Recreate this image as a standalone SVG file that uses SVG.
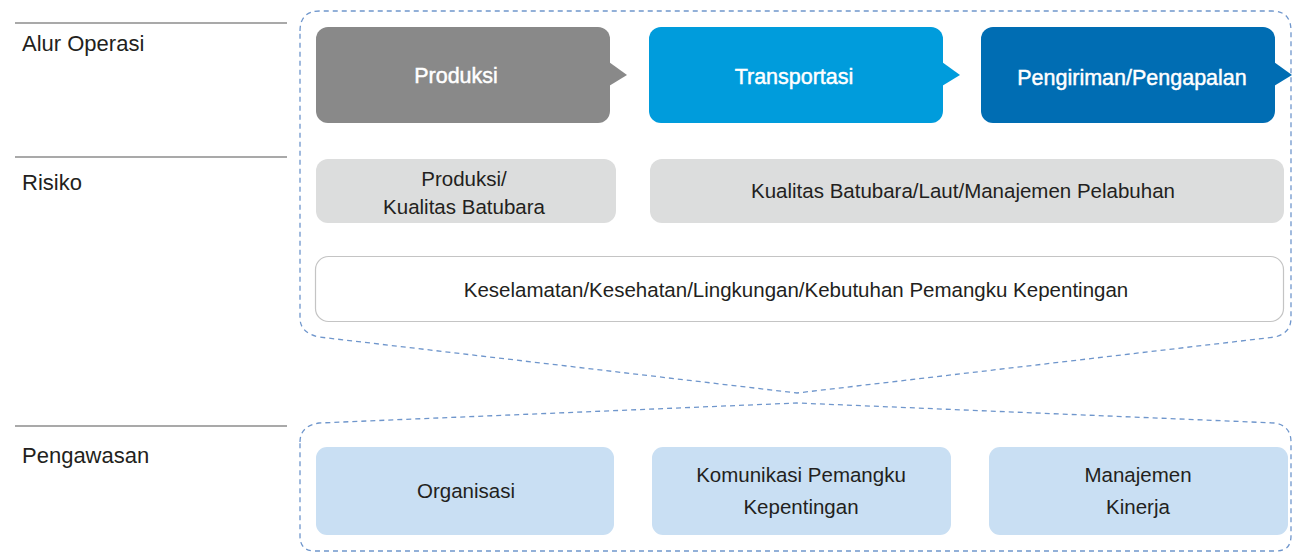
<svg xmlns="http://www.w3.org/2000/svg" width="1293" height="554" viewBox="0 0 1293 554">
<style>
.lbl{font-family:"Liberation Sans",Arial,sans-serif;font-size:22px;fill:#231f20}
.top{font-family:"Liberation Sans",Arial,sans-serif;font-size:21.5px;fill:#ffffff;stroke:#ffffff;stroke-width:0.45;text-anchor:middle}
.txt{font-family:"Liberation Sans",Arial,sans-serif;font-size:20.5px;fill:#231f20;text-anchor:middle}
.dash{fill:none;stroke:#6f96cc;stroke-width:1.3;stroke-dasharray:5 4}
.rule{stroke:#8c8c8c;stroke-width:1.3}
.risk{fill:#dcdddd}
.sup{fill:#c9dff3}
</style>
<rect width="1293" height="554" fill="#ffffff"/>
<g id="labels">
<line class="rule" x1="15" y1="23" x2="287" y2="23"/>
<line class="rule" x1="15" y1="157" x2="287" y2="157"/>
<line class="rule" x1="15" y1="426" x2="287" y2="426"/>
<text class="lbl" x="22" y="51">Alur Operasi</text>
<text class="lbl" x="22" y="190">Risiko</text>
<text class="lbl" x="22" y="463">Pengawasan</text>
</g>
<g id="connectors">
<path class="dash" d="M300,31 Q300,11 320,11 L1272,11 Q1291,11 1291,31 L1291,318 Q1291,333 1275,337 L797,393 L319,337 Q300,333 300,318 Z"/>
<path class="dash" d="M300,442 Q300,426 319,423 L797,403 L1275,423 Q1291,426 1291,442 L1291,536 Q1291,551 1276,551 L315,551 Q300,551 300,536 Z"/>
</g>
<g id="produksi">
<rect x="316" y="27" width="294" height="96" rx="12" fill="#898989"/>
<polygon points="609,62 627,75 609,86" fill="#898989"/>
<text class="top" x="456" y="83">Produksi</text>
</g>
<g id="transportasi">
<rect x="649" y="27" width="294" height="96" rx="12" fill="#009cdc"/>
<polygon points="942,62 960,75 942,86" fill="#009cdc"/>
<text class="top" x="794" y="84">Transportasi</text>
</g>
<g id="pengiriman">
<rect x="981" y="27" width="294" height="96" rx="12" fill="#006db3"/>
<polygon points="1274,62 1292,75 1274,86" fill="#006db3"/>
<text class="top" x="1132" y="85">Pengiriman/Pengapalan</text>
</g>
<g id="risiko-produksi">
<rect class="risk" x="316" y="159" width="300" height="64" rx="12"/>
<text class="txt" x="464" y="186">Produksi/</text>
<text class="txt" x="464" y="214">Kualitas Batubara</text>
</g>
<g id="risiko-kualitas">
<rect class="risk" x="650" y="159" width="634" height="64" rx="12"/>
<text class="txt" x="963" y="198">Kualitas Batubara/Laut/Manajemen Pelabuhan</text>
</g>
<g id="risiko-k3">
<rect x="315.5" y="256.5" width="968" height="65" rx="13" fill="#ffffff" stroke="#c4c4c4" stroke-width="1.2"/>
<text class="txt" x="796" y="297">Keselamatan/Kesehatan/Lingkungan/Kebutuhan Pemangku Kepentingan</text>
</g>
<g id="organisasi">
<rect class="sup" x="316" y="447" width="298" height="88" rx="11"/>
<text class="txt" x="466" y="498">Organisasi</text>
</g>
<g id="komunikasi">
<rect class="sup" x="652" y="447" width="299" height="88" rx="11"/>
<text class="txt" x="801" y="482">Komunikasi Pemangku</text>
<text class="txt" x="801" y="514">Kepentingan</text>
</g>
<g id="manajemen">
<rect class="sup" x="989" y="447" width="299" height="88" rx="11"/>
<text class="txt" x="1138" y="482">Manajemen</text>
<text class="txt" x="1138" y="514">Kinerja</text>
</g>
</svg>
